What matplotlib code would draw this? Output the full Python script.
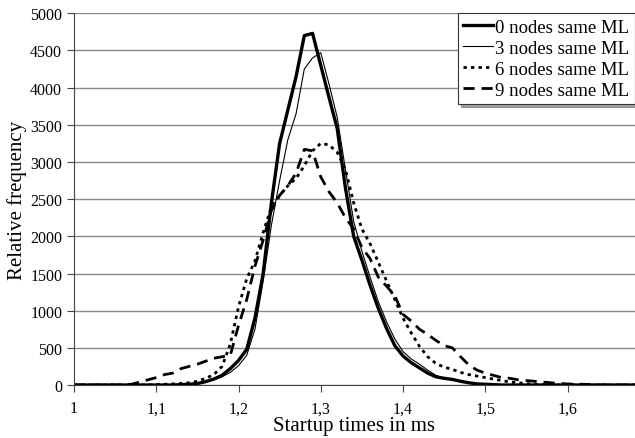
import numpy as np
import matplotlib
matplotlib.use("Agg")
import matplotlib.pyplot as plt

plt.rcParams['font.family'] = ['Liberation Serif', 'DejaVu Serif']

# ---------- datos ----------
x_ms = np.round(np.arange(1.00, 1.695, 0.01), 2)

n0 = [0]*13 + [5, 10, 20, 45, 80, 130, 220, 330, 480, 900, 1500, 2450, 3250,
               3700, 4150, 4700, 4730, 4300, 3870, 3450, 2650, 2000, 1680, 1340,
               1030, 760, 530, 390, 300, 230, 160, 110, 90, 75, 50, 30, 15, 10, 5]
n3 = [0]*13 + [5, 10, 20, 40, 70, 110, 170, 260, 400, 750, 1400, 2150, 2750,
               3300, 3650, 4250, 4400, 4470, 4050, 3600, 2900, 2200, 1800, 1450,
               1120, 850, 620, 450, 350, 280, 200, 130, 90, 70, 50, 30, 20, 10, 5]
n6 = [0]*10 + [5, 10, 15, 20, 30, 50, 90, 140, 250, 550, 1050, 1430, 1670, 2050,
               2400, 2550, 2680, 2780, 2950, 3150, 3250, 3230, 3130, 2900, 2450,
               2100, 1900, 1650, 1400, 1150, 900, 700, 520, 380, 290, 240, 210,
               170, 140, 120, 100, 80, 60, 40, 30, 20, 10, 5]
n9 = [0]*7 + [10, 40, 70, 100, 140, 160, 220, 250, 280, 320, 360, 380, 400, 800,
              1150, 1600, 1950, 2350, 2550, 2680, 2850, 3170, 3150, 2800, 2600,
              2450, 2250, 2100, 1850, 1700, 1450, 1330, 1200, 950, 860, 750, 680,
              600, 530, 500, 380, 270, 200, 160, 130, 100, 90, 70, 60, 50, 40, 30,
              20, 15, 10, 10, 5]

def pad(v):
    return np.array(v + [0]*(len(x_ms) - len(v)), dtype=float)

series = {
    "0 nodes same ML": pad(n0),
    "3 nodes same ML": pad(n3),
    "6 nodes same ML": pad(n6),
    "9 nodes same ML": pad(n9),
}
styles = {
    "0 nodes same ML": dict(lw=2.4, ls="-"),
    "3 nodes same ML": dict(lw=0.8, ls="-"),
    "6 nodes same ML": dict(lw=2.0, ls=(0, (1.2, 1.5))),
    "9 nodes same ML": dict(lw=2.0, ls=(0, (4, 2.5))),
}

x_ticks = [1.0, 1.1, 1.2, 1.3, 1.4, 1.5, 1.6]
x_labels = ["1", "1,1", "1,2", "1,3", "1,4", "1,5", "1,6"]
y_ticks = list(range(0, 5001, 500))

# ---------- gráfico ----------
fig = plt.figure(figsize=(6.35, 4.39), dpi=100)
ax = fig.add_axes([0.1165, 0.1207, 0.8835, 0.8467])

for name, vals in series.items():
    ax.plot(x_ms, vals, color="black", label=name, **styles[name])

ax.set_xlim(1.0, 1.682)
ax.set_ylim(0, 5000)
ax.set_xticks(x_ticks)
ax.set_xticklabels(x_labels)
ax.set_yticks(y_ticks)
ax.tick_params(axis="both", direction="out", length=5, width=0.8,
               color="#444444", labelsize=11.5)
ax.tick_params(axis="x", pad=6)
ax.yaxis.grid(True, color="#888888", lw=1.0)
ax.set_axisbelow(True)
for s in ["top", "right"]:
    ax.spines[s].set_visible(False)
for s in ["left", "bottom"]:
    ax.spines[s].set_color("#444444")

ax.set_xlabel("Startup times in ms", fontsize=15)
ax.set_ylabel("Relative frequency", fontsize=15)
ax.xaxis.set_label_coords(0.5, -0.083)
ax.yaxis.set_label_coords(-0.083, 0.5)

leg = ax.legend(loc="upper right", bbox_to_anchor=(1.0, 1.0), borderaxespad=0,
                fontsize=13.5, handlelength=1.6, handletextpad=0.1,
                labelspacing=0.2, fancybox=False, shadow=True, framealpha=1,
                edgecolor="#333333", borderpad=0.3)
leg.get_frame().set_linewidth(0.8)

fig.savefig("out.png", dpi=100)
